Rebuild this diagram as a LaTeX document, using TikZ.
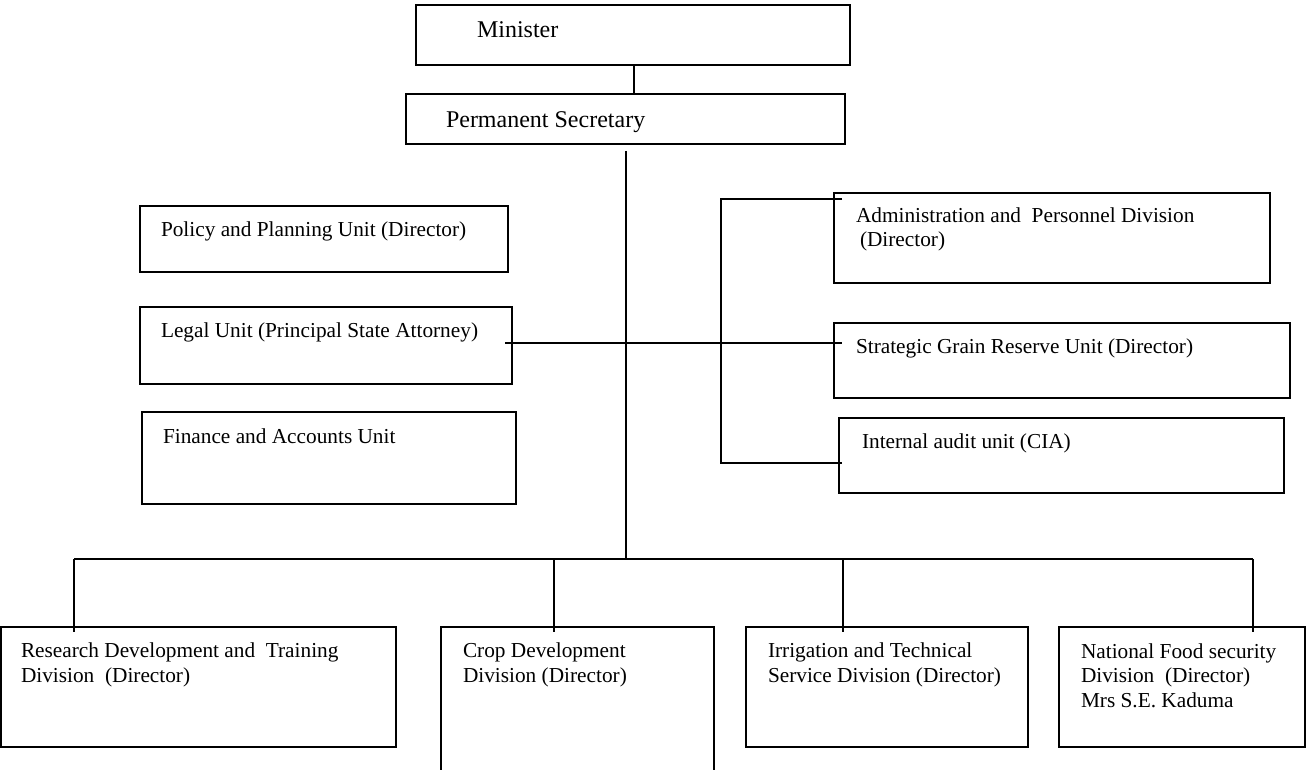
\documentclass[tikz,border=0pt]{standalone}
\usepackage{fontspec}
\setmainfont{Liberation Serif}
\begin{document}
\begin{tikzpicture}[x=0.5pt,y=-0.5pt,line width=1pt,
  box/.style={draw,rectangle,inner sep=0pt,outer sep=0pt,anchor=north west},
  txt/.style={inner sep=0pt,anchor=base west,align=left,font=\fontsize{10.65}{12.2}\selectfont},
  bigtxt/.style={txt,font=\fontsize{12}{14}\selectfont},
  conn/.style={draw,line width=1pt}]
\useasboundingbox (0,0) rectangle (1307,770);
\fill[white] (0,0) rectangle (1307,770);
\clip (0,0) rectangle (1307,770);

% boxes
\node[box,minimum width=217pt,minimum height=30pt] (min) at (416,5) {};
\node[box,minimum width=219.5pt,minimum height=25pt] (ps) at (406,94) {};
\node[box,minimum width=184pt,minimum height=33pt] (pol) at (140,206) {};
\node[box,minimum width=186pt,minimum height=38.5pt] (leg) at (140,307) {};
\node[box,minimum width=187pt,minimum height=46pt] (fin) at (142,412) {};
\node[box,minimum width=218pt,minimum height=45pt] (adm) at (834,193) {};
\node[box,minimum width=228pt,minimum height=37.5pt] (sgr) at (834,323) {};
\node[box,minimum width=222.5pt,minimum height=37.5pt] (ia) at (839,418) {};
\node[box,minimum width=197.5pt,minimum height=60pt] (rdt) at (1,627) {};
\node[box,minimum width=136.5pt,minimum height=80pt] (crop) at (441,627) {};
\node[box,minimum width=141pt,minimum height=60pt] (irr) at (746,627) {};
\node[box,minimum width=123pt,minimum height=60pt] (nfs) at (1059,627) {};

% texts (multi-line nodes: base = last line)
\node[bigtxt] (tmin) at (476,38) {Minister};
\node[bigtxt] (tps) at (445,128) {Permanent Secretary};
\node[txt] (tpol) at (160,237) {Policy and Planning Unit (Director)};
\node[txt] (tleg) at (160,337) {Legal Unit (Principal State Attorney)};
\node[txt] (tfin) at (162,443) {Finance and Accounts Unit};
\node[txt] (tadm) at (855,247) {Administration and\ \ Personnel Division\\\hspace{2pt}(Director)};
\node[txt] (tsgr) at (855,353) {Strategic Grain Reserve Unit (Director)};
\node[txt] (tia) at (861,448) {Internal audit unit (CIA)};
\node[txt] (trdt) at (20,682) {Research Development and\ \ Training\\Division\ \ (Director)};
\node[txt] (tcrop) at (462,682) {Crop Development\\Division (Director)};
\node[txt] (tirr) at (767,682) {Irrigation and Technical\\Service Division (Director)};
\node[txt] (tnfs) at (1080,707) {National Food security\\Division\ \ (Director)\\Mrs S.E. Kaduma};

% connectors
\draw[conn] (min.south -| 634,0) -- (ps.north -| 634,0);
\coordinate (ptop) at (626,151);
\coordinate (pbot) at (626,559);
\draw[conn] (ptop) -- (pbot);
\coordinate (cl) at (505,343);
\coordinate (cr) at (842,343);
\draw[conn] (cl) -- (cr);
\coordinate (bt) at (842,199);
\coordinate (bx) at (721,331);
\coordinate (bb) at (842,463);
\draw[conn] (bt) -| (bx) |- (bb);
\coordinate (b1) at (74,559);
\coordinate (b2) at (554,559);
\coordinate (b3) at (843,559);
\coordinate (b4) at (1253,559);
\draw[conn] (b1) -- (b4);
\foreach \c/\n in {b1/rdt,b2/crop,b3/irr,b4/nfs}
  \draw[conn] (\c) -- ([yshift=-2.5pt]\c |- \n.north);
\end{tikzpicture}
\end{document}
